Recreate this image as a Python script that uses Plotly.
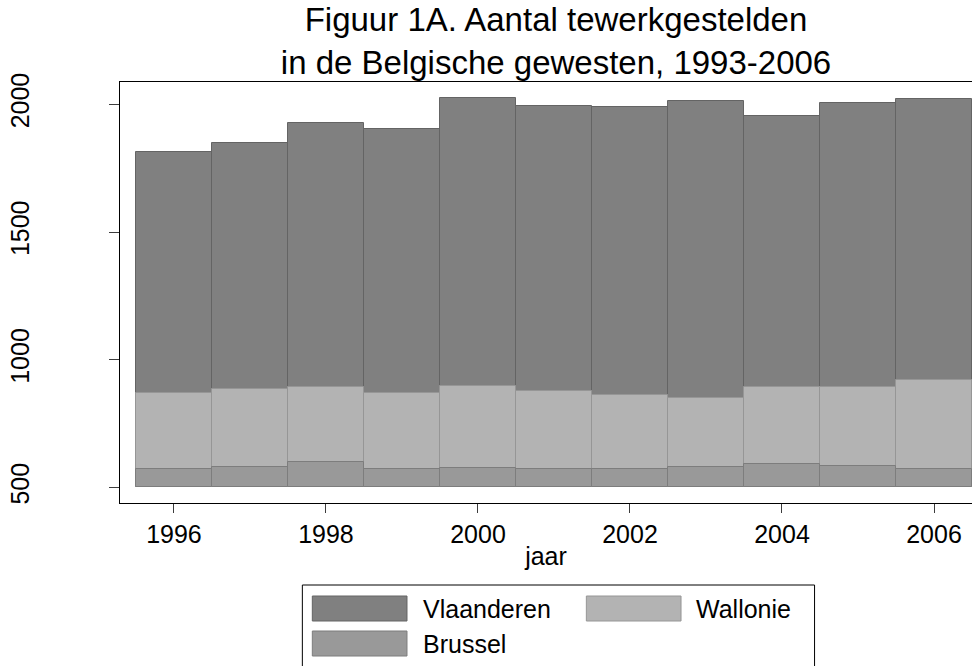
import plotly.graph_objects as go

years = [1996, 1997, 1998, 1999, 2000, 2001, 2002, 2003, 2004, 2005, 2006]
vlaanderen = [1812, 1847, 1926, 1905, 2026, 1994, 1991, 2014, 1953, 2004, 2020]
wallonie = [870, 884, 892, 870, 899, 878, 862, 852, 895, 892, 921]
brussel = [571, 582, 600, 572, 578, 571, 571, 582, 592, 584, 573]
base_value = 500
x_ticks = [1996, 1998, 2000, 2002, 2004, 2006]
y_ticks = [500, 1000, 1500, 2000]

series = [
    ("Vlaanderen", vlaanderen, "rgb(128,128,128)", "rgb(100,100,100)"),
    ("Wallonie", wallonie, "rgb(179,179,179)", "rgb(150,150,150)"),
    ("Brussel", brussel, "rgb(153,153,153)", "rgb(125,125,125)"),
]

FONT = "Liberation Sans, Arial, Helvetica, sans-serif"
W, H = 978, 666
L, R, T, B = 117, 6, 82, 163
PW, PH = W - L - R, H - T - B

fig = go.Figure()
for name, vals, fill, line in series:
    fig.add_trace(go.Bar(
        x=years, y=[v - base_value for v in vals], base=base_value,
        name=name, width=1.0,
        marker=dict(color=fill, line=dict(color=line, width=1)),
        showlegend=False,
    ))

def px_x(p):
    return (p - L) / PW
def px_y(p):
    return (H - B - p) / PH

# Stata-style legend box drawn with shapes
shapes = [dict(type="rect", xref="paper", yref="paper",
               x0=px_x(300), x1=px_x(814), y0=px_y(672), y1=px_y(585),
               line=dict(color="black", width=1), fillcolor="white", layer="above")]
legend_items = [
    ("Vlaanderen", series[0][2], series[0][3], 310, 596, 419),
    ("Wallonie", series[1][2], series[1][3], 585, 596, 693),
    ("Brussel", series[2][2], series[2][3], 310, 631, 419),
]
annotations = []
for name, fill, line, x0, y0, tx in legend_items:
    shapes.append(dict(type="rect", xref="paper", yref="paper",
                       x0=px_x(x0), x1=px_x(x0 + 95), y0=px_y(y0 + 25), y1=px_y(y0),
                       line=dict(color=line, width=1), fillcolor=fill, layer="above"))
    annotations.append(dict(xref="paper", yref="paper", x=px_x(tx), y=px_y(y0 + 12.5),
                            text=name, showarrow=False, xanchor="left", yanchor="middle",
                            font=dict(family=FONT, size=25, color="black")))

fig.update_layout(
    width=W, height=H,
    margin=dict(l=L, r=R, t=T, b=B),
    paper_bgcolor="white", plot_bgcolor="white",
    barmode="overlay",
    bargap=0,
    font=dict(family=FONT, color="black"),
    title=dict(text="Figuur 1A. Aantal tewerkgestelden<br>in de Belgische gewesten, 1993-2006",
               xref="container", x=556 / W, xanchor="center",
               yref="container", y=1 - 31 / H, yanchor="top",
               font=dict(family=FONT, size=33, color="black")),
    xaxis=dict(range=[1995.29, 2006.5], tickvals=x_ticks,
               ticks="outside", ticklen=9, tickcolor="rgb(60,60,60)", showline=True, linecolor="black",
               linewidth=1, mirror=True, showgrid=False, zeroline=False,
               tickfont=dict(family=FONT, size=25, color="black"),
               title=dict(text="jaar", font=dict(family=FONT, size=25, color="black"), standoff=0)),
    yaxis=dict(range=[439.3, 2087.3], tickvals=y_ticks, tickangle=-90,
               ticks="outside", ticklen=10, tickcolor="rgb(60,60,60)", showline=True, linecolor="black",
               linewidth=1, showgrid=False, zeroline=False,
               tickfont=dict(family=FONT, size=25, color="black"), ticklabelstandoff=70),
    shapes=shapes,
    annotations=annotations,
)

fig.write_html("out.html", config={"displayModeBar": False},
               post_script="document.body.style.margin='0';document.body.style.overflow='hidden';")
